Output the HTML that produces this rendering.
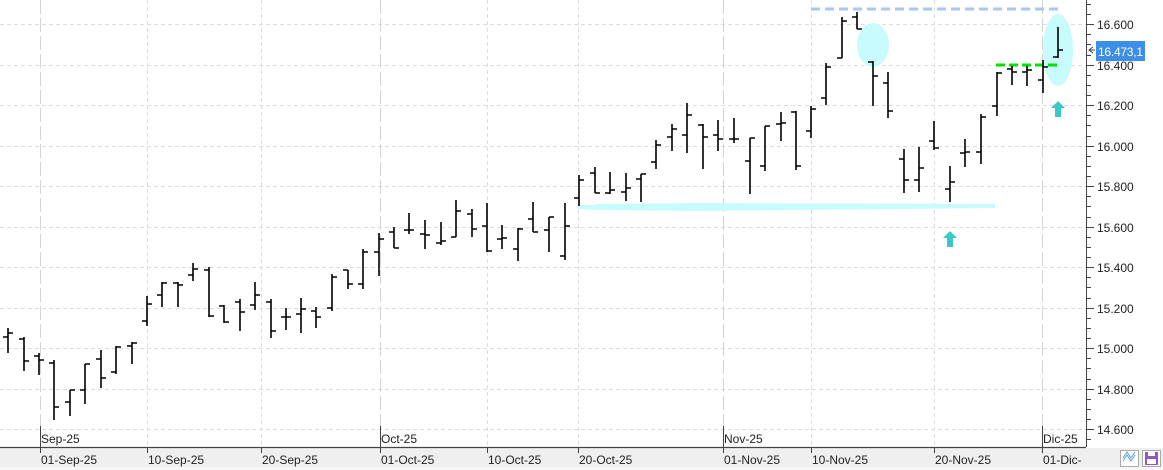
<!DOCTYPE html>
<html><head><meta charset="utf-8"><style>
html,body{margin:0;padding:0;background:#fff;}
svg{display:block;font-family:"Liberation Sans",sans-serif;}
</style></head><body>
<svg width="1163" height="470" viewBox="0 0 1163 470" xmlns="http://www.w3.org/2000/svg">
<rect width="1163" height="470" fill="#fff"/>
<g stroke="#dcdcdc" stroke-width="1" stroke-dasharray="4,3">
<line x1="0" y1="24.5" x2="1086" y2="24.5"/><line x1="0" y1="65.5" x2="1086" y2="65.5"/>
<line x1="0" y1="105.5" x2="1086" y2="105.5"/><line x1="0" y1="146.5" x2="1086" y2="146.5"/>
<line x1="0" y1="186.5" x2="1086" y2="186.5"/><line x1="0" y1="227.5" x2="1086" y2="227.5"/>
<line x1="0" y1="267.5" x2="1086" y2="267.5"/><line x1="0" y1="308.5" x2="1086" y2="308.5"/>
<line x1="0" y1="348.5" x2="1086" y2="348.5"/><line x1="0" y1="389.5" x2="1086" y2="389.5"/>
<line x1="0" y1="429.5" x2="1086" y2="429.5"/>
</g>
<g stroke="#dcdcdc" stroke-width="1" stroke-dasharray="4,3">
<line x1="147.5" y1="0" x2="147.5" y2="447"/><line x1="261.5" y1="0" x2="261.5" y2="447"/>
<line x1="487.5" y1="0" x2="487.5" y2="447"/><line x1="578.5" y1="0" x2="578.5" y2="447"/>
<line x1="811.5" y1="0" x2="811.5" y2="447"/><line x1="934.5" y1="0" x2="934.5" y2="447"/>
</g>
<g stroke="#d4d4d4" stroke-width="1" stroke-dasharray="14,4">
<line x1="40.5" y1="0" x2="40.5" y2="447"/><line x1="380.5" y1="0" x2="380.5" y2="447"/>
<line x1="723.5" y1="0" x2="723.5" y2="447"/><line x1="1042.5" y1="0" x2="1042.5" y2="447"/>
</g>
<path d="M578 205 L595 205 L595 204 L700 203 L995 204 L995 208 L700 211 L595 210 L578 209 Z" fill="#c8fbfc"/>
<ellipse cx="873" cy="45" rx="16" ry="22" fill="#c8fbfc"/>
<ellipse cx="1058" cy="50" rx="15" ry="36" fill="#c8fbfc"/>
<line x1="811" y1="9" x2="1058" y2="9" stroke="#a8c8f0" stroke-width="3" stroke-dasharray="9,5"/>
<line x1="996" y1="65" x2="1058" y2="65" stroke="#00e000" stroke-width="3" stroke-dasharray="9,4"/>
<path d="M1058 101 L1065 108 L1061 108 L1061 117 L1055 117 L1055 108 L1051 108 Z" fill="#3cc8c8"/>
<path d="M950 231 L957 238 L953 238 L953 247 L947 247 L947 238 L943 238 Z" fill="#3cc8c8"/>
<path fill="none" stroke="#000" stroke-width="1.6" d="
M8 328V353M3 337H8M8 333H13
M24 337V371M19 339H24M24 361H29
M39 353V375M34 356H39M39 360H44
M54 360V420M49 363H54M54 407H59
M70 390V416M65 402H70M70 390H75
M85 364V404M80 390H85M85 364H90
M101 350V388M96 359H101M101 378H106
M116 346V374M111 372H116M116 347H121
M132 342V364M127 346H132M132 343H137
M147 296V326M142 321H147M147 304H152
M162 282V307M157 295H162M162 283H167
M178 282V307M173 283H178M178 285H183
M193 263V281M188 275H193M193 269H198
M209 267V317M204 270H209M209 316H214
M224 305V323M219 306H224M224 322H229
M240 299V331M235 302H240M240 312H245
M255 282V310M250 305H255M255 295H260
M271 299V338M266 302H271M271 331H276
M286 308V330M281 317H286M286 317H291
M301 298V333M296 314H301M301 309H306
M316 307V328M311 311H316M316 317H321
M332 274V311M327 308H332M332 277H337
M348 270V289M343 270H348M348 284H353
M363 249V289M358 284H363M363 252H368
M379 233V276M374 252H379M379 239H384
M394 227V248M389 232H394M394 248H399
M409 213V234M404 230H409M409 230H414
M425 220V249M420 234H425M425 235H430
M441 222V245M436 243H441M441 241H446
M456 200V237M451 237H456M456 211H461
M472 209V237M467 214H472M472 229H477
M487 203V252M482 226H487M487 251H492
M502 225V249M497 239H502M502 238H507
M518 228V261M513 249H518M518 229H523
M533 202V232M528 219H533M533 232H538
M549 217V252M544 230H549M549 217H554
M565 203V260M560 256H565M565 226H570
M579 175V206M574 198H579M579 180H584
M595 167V193M590 173H595M595 193H600
M610 172V194M605 193H610M610 190H615
M626 173V201M621 192H626M626 188H631
M641 174V202M636 179H641M641 174H646
M656 140V169M651 162H656M656 145H661
M672 124V151M667 137H672M672 129H677
M687 103V153M682 135H687M687 115H692
M703 124V169M698 125H703M703 137H708
M718 120V151M713 135H718M718 139H723
M734 118V143M729 139H734M734 139H739
M750 138V194M745 161H750M750 138H755
M765 126V171M760 166H765M765 126H770
M781 112V141M776 124H781M781 123H786
M796 111V170M791 112H796M796 166H801
M811 106V138M806 131H811M811 109H816
M826 63V105M821 98H826M826 67H831
M842 17V58M837 58H842M842 21H847
M857 12V29M852 17H857M857 29H862
M873 61V106M868 62H873M873 76H878
M888 72V118M883 83H888M888 111H893
M904 149V193M899 159H904M904 180H909
M919 147V192M914 180H919M919 168H924
M934 121V150M929 141H934M934 148H939
M950 166V202M945 189H950M950 182H955
M965 139V167M960 153H965M965 152H970
M981 114V164M976 152H981M981 117H986
M997 72V116M992 106H997M997 73H1002
M1012 66V85M1007 69H1012M1012 72H1017
M1027 66V86M1022 72H1027M1027 70H1032
M1043 60V93M1038 80H1043M1043 67H1048
M1058 27V58M1053 57H1058M1058 50H1063"/>
<rect x="1087" y="0" width="76" height="447" fill="#fff"/>
<line x1="1086.5" y1="0" x2="1086.5" y2="447" stroke="#444" stroke-width="1"/>
<g stroke="#444" stroke-width="1">
<path d="M1087 4.5H1091M1087 14.5H1091M1087 34.5H1091M1087 44.5H1091M1087 55.5H1091M1087 75.5H1091M1087 85.5H1091M1087 95.5H1091M1087 115.5H1091M1087 125.5H1091M1087 136.5H1091M1087 156.5H1091M1087 166.5H1091M1087 176.5H1091M1087 196.5H1091M1087 206.5H1091M1087 217.5H1091M1087 237.5H1091M1087 247.5H1091M1087 257.5H1091M1087 277.5H1091M1087 287.5H1091M1087 298.5H1091M1087 318.5H1091M1087 328.5H1091M1087 338.5H1091M1087 358.5H1091M1087 368.5H1091M1087 379.5H1091M1087 399.5H1091M1087 409.5H1091M1087 419.5H1091M1087 439.5H1091"/>
<path d="M1087 24.5H1094M1087 65.5H1094M1087 105.5H1094M1087 146.5H1094M1087 186.5H1094M1087 227.5H1094M1087 267.5H1094M1087 308.5H1094M1087 348.5H1094M1087 389.5H1094M1087 429.5H1094"/>
</g>
<g font-size="12" fill="#222">
<text x="1097" y="29">16.600</text><text x="1097" y="70">16.400</text>
<text x="1097" y="110">16.200</text><text x="1097" y="151">16.000</text>
<text x="1097" y="191">15.800</text><text x="1097" y="232">15.600</text>
<text x="1097" y="272">15.400</text><text x="1097" y="313">15.200</text>
<text x="1097" y="353">15.000</text><text x="1097" y="394">14.800</text>
<text x="1097" y="434">14.600</text>
</g>
<rect x="1096" y="41" width="49" height="20" fill="#3c8ee6"/>
<text x="1098" y="56" font-size="12" fill="#fff" textLength="45">16.473,1</text>
<path d="M1093 47L1089 50L1093 53M1089 50H1095" stroke="#444" fill="none" stroke-width="1"/>
<rect x="0" y="448" width="1163" height="19" fill="#efefef"/>
<rect x="0" y="467" width="1163" height="3" fill="#f7f7f7"/>
<line x1="0" y1="447.5" x2="1086" y2="447.5" stroke="#444" stroke-width="1.2"/>
<g stroke="#444" stroke-width="1">
<path d="M40.5 426V453M380.5 426V453M723.5 426V453M1042.5 426V453M147.5 447V453M261.5 447V453M487.5 447V453M578.5 447V453M811.5 447V453M934.5 447V453"/>
</g>
<g font-size="12" fill="#222">
<text x="41" y="443">Sep-25</text><text x="381" y="443">Oct-25</text>
<text x="724" y="443">Nov-25</text><text x="1043" y="443">Dic-25</text>
<text x="41" y="464">01-Sep-25</text><text x="148" y="464">10-Sep-25</text>
<text x="262" y="464">20-Sep-25</text><text x="381" y="464">01-Oct-25</text>
<text x="488" y="464">10-Oct-25</text><text x="579" y="464">20-Oct-25</text>
<text x="724" y="464">01-Nov-25</text><text x="812" y="464">10-Nov-25</text>
<text x="935" y="464">20-Nov-25</text><text x="1043" y="464">01-Dic-</text>
</g>
<rect x="1120.5" y="450.5" width="18" height="16" fill="#fff" stroke="#aaa"/>
<path d="M1123 461L1127 455L1131 461L1135 455M1123 458L1127 452L1131 458L1135 452" stroke="#5aa0e0" fill="none" stroke-width="1"/>
<rect x="1142.5" y="450.5" width="18" height="16" fill="#fff" stroke="#aaa"/>
<rect x="1145" y="452" width="13" height="13" fill="#8e58c8"/>
<rect x="1148" y="452" width="7" height="4" fill="#fff"/>
<rect x="1147" y="459" width="9" height="5" fill="#fff"/>
</svg>
</body></html>
